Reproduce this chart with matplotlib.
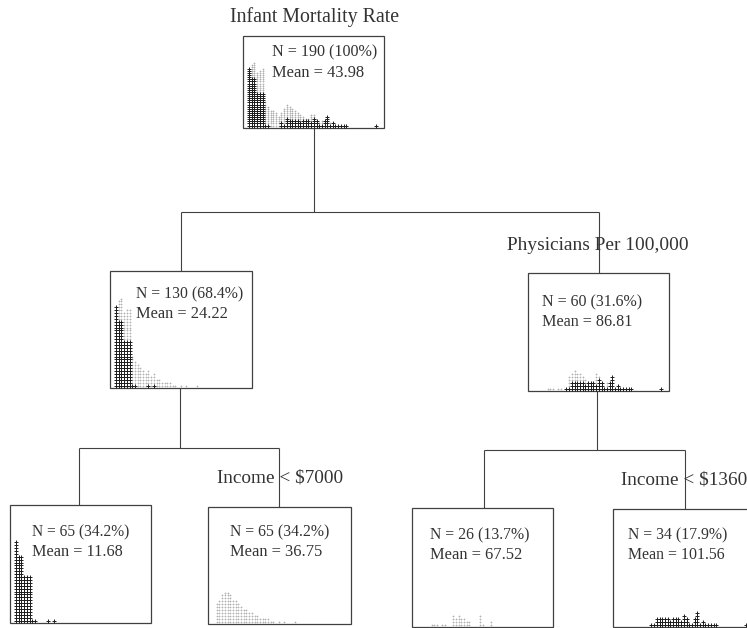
import matplotlib
matplotlib.use("Agg")
import matplotlib.pyplot as plt
from matplotlib.patches import Rectangle
import numpy as np

# ---------------- data ----------------
title_text = "Infant Mortality Rate"
split_labels = ["Physicians Per 100,000", "Income < $7000", "Income < $1360"]

node_n = ["N = 190 (100%)", "N = 130 (68.4%)", "N = 60 (31.6%)",
          "N = 65 (34.2%)", "N = 65 (34.2%)", "N = 26 (13.7%)", "N = 34 (17.9%)"]
node_mean = ["Mean = 43.98", "Mean = 24.22", "Mean = 86.81",
             "Mean = 11.68", "Mean = 36.75", "Mean = 67.52", "Mean = 101.56"]

# dot counts per histogram column for each terminal node
leaf1_counts = [28, 23, 23, 16, 16, 16, 1, 1, 0, 0, 0, 0, 1, 0, 1]
leaf2_counts = [0, 7, 8, 10, 11, 11, 10, 8, 8, 7, 6, 5, 5, 4, 4, 3, 3, 2, 2, 2, 2,
                1, 1, 0, 1, 0, 1, 0, 0, 0, 1]
leaf3_counts = [0, 0, 0, 0, 0, 1, 1, 1, 0, 1, 1, 0, 0, 4, 3, 4, 3, 3, 2, 2,
                0, 0, 0, 4, 1, 0, 0, 2]
leaf4_counts = [0] * 12 + [1, 1, 3, 3, 3, 3, 3, 2, 3, 3, 3, 2, 4, 3, 1, 1, 3, 5, 1, 2,
                           1, 1, 1, 1, 1] + [0] * 10 + [1]
leaf_dark = [True, False, False, True]

# ---------------- figure ----------------
W, H = 747, 628
fig = plt.figure(figsize=(W / 100, H / 100), dpi=100)
ax = fig.add_axes([0, 0, 1, 1])
ax.set_xlim(0, W)
ax.set_ylim(H, 0)
ax.axis("off")
renderer = fig.canvas.get_renderer()

LINE = "#404040"
TXT = "#333333"
DARK = "#1e1e1e"
LIGHT = "#b0b0b0"
FONT = "Liberation Serif"

# boxes: left, top, right, bottom (pixels)
boxes = [
    (243, 36, 384, 128),
    (110, 271, 252, 388),
    (528, 273, 669, 391),
    (10, 505, 151, 623),
    (208, 507, 351, 624),
    (412, 508, 553, 627),
    (613, 509, 760, 627),
]
for (l, t, r, b) in boxes:
    ax.add_patch(Rectangle((l, t), r - l, b - t, fill=False, ec=LINE, lw=0.9))

def seg(x0, y0, x1, y1):
    ax.plot([x0, x1], [y0, y1], color=LINE, lw=0.8, solid_capstyle="butt")

# connectors
seg(314, 128, 314, 212); seg(181, 212, 599, 212)
seg(181, 212, 181, 271); seg(599, 212, 599, 273)
seg(180, 388, 180, 448); seg(79, 448, 279, 448)
seg(79, 448, 79, 505); seg(279, 448, 279, 507)
seg(597, 391, 597, 450); seg(484, 450, 685, 450)
seg(484, 450, 484, 508); seg(685, 450, 685, 509)

def fit_text(x, y, s, width, **kw):
    t = ax.text(x, y, s, fontsize=12, family=FONT, color=TXT, va="baseline", ha="left", **kw)
    bb = t.get_window_extent(renderer)
    t.set_fontsize(12 * width / bb.width)
    return t

fit_text(230, 22, title_text, 168)
fit_text(507, 250, split_labels[0], 181)
fit_text(217, 482, split_labels[1], 126)
fit_text(621, 485, split_labels[2], 126)

text_pos = [
    (272, 56, 77, 105, 92),
    (136, 298, 318, 107, 91),
    (542, 306, 326, 101, 90),
    (32, 536, 556, 98, 90),
    (230, 536, 556, 99, 92),
    (430, 539, 559, 99, 92),
    (628, 539, 559, 99, 97),
]
for i, (x, yn, ym, wn, wm) in enumerate(text_pos):
    fit_text(x, yn, node_n[i], wn)
    fit_text(x, ym, node_mean[i], wm)

# ---------------- dot histograms ----------------
leaves = [leaf1_counts, leaf2_counts, leaf3_counts, leaf4_counts]
ncol = max(len(c) for c in leaves)
leaf_arr = np.zeros((4, ncol), dtype=int)
for k, c in enumerate(leaves):
    leaf_arr[k, :len(c)] = c

# stacking order inside a parent box: dark groups first, then light groups
node_leaves = [[0, 3, 1, 2], [0, 1], [3, 2], [0], [1], [2], [3]]
row_pitch = [2.1, 2.9, 2.9, 2.9, 2.9, 2.9, 2.9]
COL_PITCH = 2.7

for i, (l, t, r, b) in enumerate(boxes):
    x0 = l + 6
    y0 = b - 2.5
    xs_d, ys_d, xs_l, ys_l = [], [], [], []
    for c in range(ncol):
        h = 0
        for k in node_leaves[i]:
            n = leaf_arr[k, c]
            for j in range(n):
                xx = x0 + c * COL_PITCH
                yy = y0 - (h + j) * row_pitch[i]
                if leaf_dark[k]:
                    xs_d.append(xx); ys_d.append(yy)
                else:
                    xs_l.append(xx); ys_l.append(yy)
            h += n
    ax.scatter(xs_l, ys_l, marker="+", s=4.0, linewidths=0.5, color=LIGHT, zorder=3)
    ax.scatter(xs_d, ys_d, marker="+", s=5.0, linewidths=0.7, color=DARK, zorder=4)

fig.savefig("out.png", dpi=100, facecolor="white")
